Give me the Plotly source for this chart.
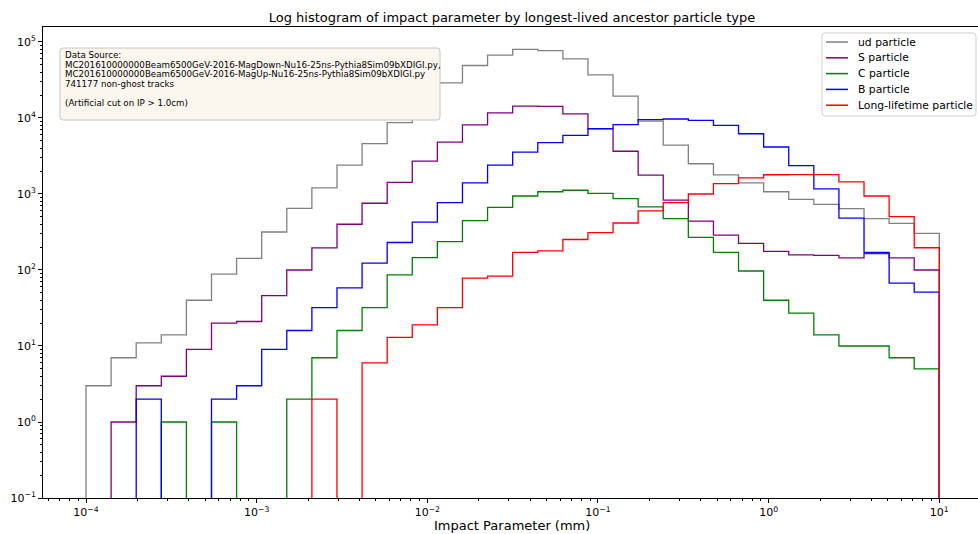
import numpy as np
import plotly.graph_objects as go

# 34 logarithmic bins between 1e-4 mm and 10 mm
bin_edges = np.logspace(-4, 1, 35)

labels = ["ud particle", "S particle", "C particle", "B particle", "Long-lifetime particle"]
colors = ["#808080", "#800080", "#008000", "#0000ff", "#ff0000"]

ud_counts = [3, 7, 11, 14, 40, 88, 142, 316, 645, 1200, 2400, 4600, 8700, 15900,
             29000, 49000, 67000, 80000, 77000, 60000, 37000, 19400, 9100, 4400,
             2500, 1780, 1400, 1070, 850, 730, 640, 475, 410, 303]
s_counts = [0, 1, 3, 4, 9, 20, 21, 46, 100, 195, 400, 755, 1420, 2700,
            4800, 8100, 11700, 14300, 14200, 11300, 7200, 3650, 1770, 830,
            440, 288, 224, 176, 158, 156, 144, 164, 144, 100]
c_counts = [0, 0, 0, 1, 0, 1, 0, 0, 2, 7, 16, 32, 86, 145,
            236, 445, 665, 940, 1070, 1120, 1020, 870, 675, 475,
            268, 170, 97, 40, 27, 14, 10, 10, 7, 5]
b_counts = [0, 0, 2, 0, 0, 2, 3, 9, 16, 32, 58, 123, 230, 426,
            770, 1400, 2400, 3560, 4750, 5900, 7250, 8200, 9500, 9700,
            9300, 8000, 6200, 4150, 2360, 1170, 480, 170, 67, 51]
ll_counts = [0, 0, 0, 0, 0, 0, 0, 0, 0, 2, 0, 6, 13, 19,
             32, 78, 83, 170, 178, 252, 310, 415, 600, 770,
             1000, 1370, 1630, 1790, 1800, 1800, 1440, 940, 505, 196]

series = [ud_counts, s_counts, c_counts, b_counts, ll_counts]

x_ticks = [1e-4, 1e-3, 1e-2, 1e-1, 1e0, 1e1]
x_tick_text = ["10<sup>\u22124</sup>", "10<sup>\u22123</sup>", "10<sup>\u22122</sup>",
               "10<sup>\u22121</sup>", "10<sup>0</sup>", "10<sup>1</sup>"]
y_ticks = [1e-1, 1e0, 1e1, 1e2, 1e3, 1e4, 1e5]
y_tick_text = ["10<sup>\u22121</sup>", "10<sup>0</sup>", "10<sup>1</sup>", "10<sup>2</sup>",
               "10<sup>3</sup>", "10<sup>4</sup>", "10<sup>5</sup>"]

info_lines = [
    "Data Source:",
    "MC201610000000Beam6500GeV-2016-MagDown-Nu16-25ns-Pythia8Sim09bXDIGI.py,",
    "MC201610000000Beam6500GeV-2016-MagUp-Nu16-25ns-Pythia8Sim09bXDIGI.py",
    "741177 non-ghost tracks",
    "",
    "(Artificial cut on IP > 1.0cm)",
]

# figure geometry (pixels)
W, H = 978, 534
M_L, M_R, M_T, M_B = 43, 0, 27, 36
PW, PH = W - M_L - M_R, H - M_T - M_B


def px(x):
    return (x - M_L) / PW


def py(y):
    return (H - M_B - y) / PH


def rounded_rect(x0, y0, x1, y1, r):
    """SVG path (paper coordinates) for a rounded box given in pixels."""
    rx, ry = r / PW, r / PH
    a, b, c, d = px(x0), px(x1), py(y1), py(y0)  # left, right, bottom, top
    return (f"M{a + rx},{d} L{b - rx},{d} Q{b},{d} {b},{d - ry} "
            f"L{b},{c + ry} Q{b},{c} {b - rx},{c} L{a + rx},{c} "
            f"Q{a},{c} {a},{c + ry} L{a},{d - ry} Q{a},{d} {a + rx},{d} Z")


# empty bins sit far below the visible log range so the outline drops to the axis
FLOOR = 1e-4


def step_outline(edges, counts):
    vals = [c if c > 0 else FLOOR for c in counts]
    xs = [edges[0]] + list(edges[:-1]) + [edges[-1]]
    ys = [FLOOR] + vals + [FLOOR]
    return xs, ys


fig = go.Figure()
for name, color, counts in zip(labels, colors, series):
    xs, ys = step_outline(bin_edges, counts)
    fig.add_trace(go.Scatter(
        x=xs, y=ys, mode="lines", name=name,
        line=dict(color=color, width=1.3, shape="hv"),
        hoverinfo="skip", showlegend=False,
    ))

minor_x = [m * 10.0 ** e for e in range(-5, 2) for m in range(2, 10)]
minor_y = [m * 10.0 ** e for e in range(-2, 6) for m in range(2, 10)]

font_family = "DejaVu Sans, Arial, sans-serif"

fig.update_layout(
    width=W, height=H,
    margin=dict(l=M_L, r=M_R, t=M_T, b=M_B),
    paper_bgcolor="white", plot_bgcolor="white",
    font=dict(family=font_family, color="black", size=11),
    title=dict(
        text="Log histogram of impact parameter by longest-lived ancestor particle type",
        x=px(512), xref="paper", xanchor="center",
        y=1 - 17 / H, yref="container", yanchor="middle",
        font=dict(size=13, family=font_family),
    ),
    showlegend=False,
    xaxis=dict(
        type="log", range=[-4.252, 1.2267],
        showgrid=False, zeroline=False,
        showline=True, linecolor="black", linewidth=1, mirror=True,
        ticks="outside", ticklen=4, tickwidth=1, tickcolor="black",
        tickvals=x_ticks, ticktext=x_tick_text,
        tickfont=dict(size=11, family=font_family),
        minor=dict(tickvals=minor_x, ticks="outside", ticklen=2, tickwidth=0.8,
                   tickcolor="black", showgrid=False),
    ),
    yaxis=dict(
        type="log", range=[-1, 5.197],
        showgrid=False, zeroline=False,
        showline=True, linecolor="black", linewidth=1, mirror=False,
        ticks="outside", ticklen=4, tickwidth=1, tickcolor="black",
        tickvals=y_ticks, ticktext=y_tick_text,
        tickfont=dict(size=11, family=font_family),
        minor=dict(tickvals=minor_y, ticks="outside", ticklen=2, tickwidth=0.8,
                   tickcolor="black", showgrid=False),
    ),
)

# x-axis label
fig.add_annotation(
    text="Impact Parameter (mm)",
    xref="paper", yref="paper", x=px(512), y=py(525),
    xanchor="center", yanchor="middle", showarrow=False,
    font=dict(size=13, family=font_family),
)

# data-source box
fig.add_shape(type="path", xref="paper", yref="paper",
              path=rounded_rect(60, 48, 440, 120, 3),
              fillcolor="#fbf7ef", line=dict(color="#c4c4c4", width=1), layer="above")
line_y0, line_dy = 55.0, 9.6
for i, line in enumerate(info_lines):
    if not line:
        continue
    fig.add_annotation(
        text=line, xref="paper", yref="paper",
        x=px(62.5), y=py(line_y0 + i * line_dy),
        xanchor="left", yanchor="middle", showarrow=False,
        font=dict(size=8.7, family=font_family),
    )

# legend box
fig.add_shape(type="path", xref="paper", yref="paper",
              path=rounded_rect(822, 33, 976, 116, 3),
              fillcolor="rgba(255,255,255,0.85)", line=dict(color="#cccccc", width=1),
              layer="above")
row_y0, row_dy = 42.0, 15.8
for i, (name, color) in enumerate(zip(labels, colors)):
    yy = py(row_y0 + i * row_dy)
    fig.add_shape(type="line", xref="paper", yref="paper",
                  x0=px(826), x1=px(848), y0=yy, y1=yy,
                  line=dict(color=color, width=1.5), layer="above")
    fig.add_annotation(
        text=name, xref="paper", yref="paper", x=px(856), y=yy,
        xanchor="left", yanchor="middle", showarrow=False,
        font=dict(size=10.8, family=font_family),
    )

fig.write_html("out.html")
